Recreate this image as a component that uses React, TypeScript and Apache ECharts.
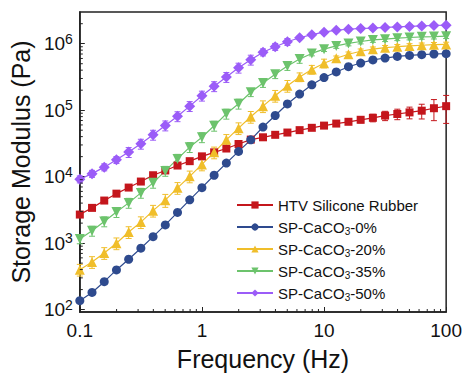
import React, { useEffect, useRef } from 'react';
import * as echarts from 'echarts';

const frequencies = [0.1, 0.1259, 0.1585, 0.1995, 0.2512, 0.3162, 0.3981, 0.5012, 0.631, 0.7943, 1, 1.259, 1.585, 1.995, 2.512, 3.162, 3.981, 5.012, 6.31, 7.943, 10, 12.59, 15.85, 19.95, 25.12, 31.62, 39.81, 50.12, 63.1, 79.43, 100];

const htv = [2690, 3390, 4370, 5550, 6850, 8440, 10500, 12400, 14700, 17100, 20200, 23200, 26500, 31000, 36100, 39100, 42600, 46100, 50100, 54300, 58600, 62900, 66900, 71700, 76800, 82900, 87700, 92600, 98300, 107000, 115000];
const sp0 = [136, 181, 263, 395, 572, 838, 1250, 1880, 2900, 4480, 6830, 10500, 16000, 24000, 35800, 55800, 83200, 124000, 175000, 241000, 310000, 376000, 451000, 512000, 570000, 609000, 644000, 667000, 683000, 700000, 707000];
const sp20 = [399, 521, 712, 996, 1470, 2070, 3080, 4430, 6780, 10100, 15300, 23200, 35800, 53700, 79600, 115000, 165000, 233000, 316000, 410000, 509000, 605000, 695000, 771000, 827000, 871000, 901000, 927000, 949000, 966000, 976000];
const sp35 = [1150, 1530, 2120, 2930, 4030, 5700, 8070, 12200, 18500, 27800, 39100, 58200, 88300, 125000, 186000, 256000, 347000, 461000, 590000, 714000, 829000, 926000, 1010000, 1080000, 1140000, 1170000, 1210000, 1240000, 1270000, 1280000, 1300000];
const sp50 = [9160, 11100, 13900, 17900, 23400, 31200, 42600, 58800, 80900, 115000, 165000, 229000, 315000, 435000, 574000, 745000, 901000, 1070000, 1230000, 1370000, 1490000, 1600000, 1650000, 1700000, 1720000, 1760000, 1790000, 1820000, 1850000, 1880000, 1900000];

// relative errors (fraction of value)
const errHtv = [0.07, 0.07, 0.07, 0.07, 0.07, 0.07, 0.07, 0.07, 0.07, 0.07, 0.07, 0.07, 0.07, 0.07, 0.07, 0.07, 0.07, 0.07, 0.07, 0.07, 0.07, 0.07, 0.07, 0.1, 0.13, 0.16, 0.18, 0.2, 0.25, 0.35, 0.45];
const errSp0 = [0.05, 0.05, 0.05, 0.05, 0.05, 0.05, 0.05, 0.05, 0.05, 0.05, 0.05, 0.05, 0.05, 0.05, 0.05, 0.05, 0.05, 0.05, 0.05, 0.05, 0.05, 0.05, 0.05, 0.05, 0.05, 0.05, 0.05, 0.05, 0.05, 0.05, 0.05];
const errSp20 = [0.2, 0.2, 0.2, 0.2, 0.2, 0.2, 0.2, 0.22, 0.2, 0.2, 0.2, 0.2, 0.2, 0.2, 0.2, 0.2, 0.2, 0.2, 0.15, 0.15, 0.15, 0.08, 0.08, 0.08, 0.08, 0.08, 0.08, 0.08, 0.08, 0.08, 0.08];
const errSp35 = [0.15, 0.17, 0.17, 0.17, 0.17, 0.17, 0.17, 0.17, 0.17, 0.17, 0.17, 0.17, 0.17, 0.17, 0.14, 0.14, 0.14, 0.14, 0.14, 0.08, 0.08, 0.08, 0.08, 0.08, 0.08, 0.08, 0.08, 0.08, 0.08, 0.08, 0.08];
const errSp50 = [0.12, 0.12, 0.12, 0.12, 0.17, 0.17, 0.17, 0.17, 0.17, 0.17, 0.17, 0.17, 0.17, 0.17, 0.17, 0.12, 0.12, 0.12, 0.06, 0.06, 0.06, 0.06, 0.06, 0.06, 0.06, 0.06, 0.06, 0.06, 0.06, 0.06, 0.06];

const seriesNames = ['HTV Silicone Rubber', 'SP-CaCO3-0%', 'SP-CaCO3-20%', 'SP-CaCO3-35%', 'SP-CaCO3-50%'];
const seriesValues = [htv, sp0, sp20, sp35, sp50];
const seriesErrors = [errHtv, errSp0, errSp20, errSp35, errSp50];
const seriesColors = ['#C4161C', '#2E4A8E', '#F0BE2A', '#6CC36C', '#9B5CF8'];
const seriesSymbols = ['rect', 'circle', 'triangle', 'path://M0,0 L10,0 L5,9 Z', 'diamond'];
const seriesSymbolSizes = [8, 9, 10, 10, 11];

const xMin = 0.1;
const xMax = 100;
const yMin = 92;
const yMax = 3.0e6;

const FONT = '"Liberation Sans", Arial, Helvetica, sans-serif';

export default function App() {
  const ref = useRef<HTMLDivElement>(null);

  useEffect(() => {
    if (!ref.current) return;
    const chart = echarts.init(ref.current, undefined, { renderer: 'svg' });

    const xMinor: number[][] = [];
    for (let d = -1; d < 2; d++) {
      for (let m = 2; m <= 9; m++) xMinor.push([m * Math.pow(10, d), 1000]);
    }
    const yMinor: number[][] = [];
    for (let d = 1; d < 7; d++) {
      for (let m = 2; m <= 9; m++) {
        const v = m * Math.pow(10, d);
        if (v > yMin && v < yMax) yMinor.push([1, v]);
      }
    }

    const errorSeries = seriesNames.map((name, si) => {
      const color = seriesColors[si];
      return {
        type: 'custom',
        name: name + ' err',
        silent: true,
        clip: false,
        z: 1,
        encode: { x: 0, y: [1, 2] },
        data: frequencies.map((f, i) => [f, seriesValues[si][i] * (1 - seriesErrors[si][i]), seriesValues[si][i] * (1 + seriesErrors[si][i])]),
        renderItem: (params: any, api: any) => {
          const x = api.value(0);
          const p1 = api.coord([x, api.value(1)]);
          const p2 = api.coord([x, api.value(2)]);
          const w = 3;
          const st = { stroke: color, lineWidth: 1, fill: 'none' };
          return {
            type: 'group',
            children: [
              { type: 'line', shape: { x1: p1[0], y1: p1[1], x2: p2[0], y2: p2[1] }, style: st },
              { type: 'line', shape: { x1: p1[0] - w, y1: p1[1], x2: p1[0] + w, y2: p1[1] }, style: st },
              { type: 'line', shape: { x1: p2[0] - w, y1: p2[1], x2: p2[0] + w, y2: p2[1] }, style: st },
            ],
          };
        },
      };
    });

    const lineSeries = seriesNames.map((name, si) => ({
      type: 'line',
      name,
      data: frequencies.map((f, i) => [f, seriesValues[si][i]]),
      symbol: seriesSymbols[si],
      symbolSize: seriesSymbolSizes[si],
      showSymbol: true,
      showAllSymbol: true,
      color: seriesColors[si],
      itemStyle: { color: seriesColors[si], opacity: 1 },
      lineStyle: { color: seriesColors[si], width: 1.2 },
      z: 2,
      silent: true,
    }));

    const minorTickSeries = [
      {
        type: 'custom',
        name: 'xminor',
        silent: true,
        clip: false,
        z: 5,
        data: xMinor,
        renderItem: (params: any, api: any) => {
          const cs = params.coordSys;
          const x = api.coord([api.value(0), 1000])[0];
          const yb = cs.y + cs.height;
          return { type: 'line', shape: { x1: x, y1: yb, x2: x, y2: yb - 3 }, style: { stroke: '#222', lineWidth: 1 } };
        },
      },
      {
        type: 'custom',
        name: 'yminor',
        silent: true,
        clip: false,
        z: 5,
        data: yMinor,
        renderItem: (params: any, api: any) => {
          const cs = params.coordSys;
          const y = api.coord([1, api.value(1)])[1];
          return { type: 'line', shape: { x1: cs.x, y1: y, x2: cs.x + 3, y2: y }, style: { stroke: '#222', lineWidth: 1 } };
        },
      },
    ];

    const option: any = {
      animation: false,
      backgroundColor: '#ffffff',
      textStyle: { fontFamily: FONT },
      grid: {
        left: 75.5,
        top: 12,
        width: 373.5,
        height: 300,
        show: true,
        borderColor: '#222',
        borderWidth: 1.5,
        backgroundColor: 'transparent',
        containLabel: false,
      },
      legend: {
        orient: 'vertical',
        left: 236,
        top: 196,
        padding: 0,
        itemWidth: 36,
        itemHeight: 9,
        itemGap: 4,
        data: seriesNames,
        selectedMode: false,
        formatter: (name: string) => {
          if (name.indexOf('CaCO3') >= 0) {
            const parts = name.split('CaCO3');
            return '{n|' + parts[0] + 'CaCO}{s|3}{n|' + parts[1] + '}';
          }
          return '{n|' + name + '}';
        },
        textStyle: {
          fontFamily: FONT,
          fontSize: 15,
          color: '#111',
          lineHeight: 18,
          rich: {
            n: { fontFamily: FONT, fontSize: 15, color: '#111', lineHeight: 18 },
            s: { fontFamily: FONT, fontSize: 10, color: '#111', lineHeight: 8, verticalAlign: 'bottom' },
          },
        },
      },
      xAxis: {
        type: 'log',
        logBase: 10,
        min: xMin,
        max: xMax,
        name: 'Frequency (Hz)',
        nameLocation: 'middle',
        nameGap: 34,
        nameTextStyle: { fontFamily: FONT, fontSize: 25, color: '#111' },
        axisLine: { show: true, lineStyle: { color: '#222', width: 1.5 } },
        axisTick: { show: true, inside: true, length: 5, lineStyle: { color: '#222', width: 1 } },
        minorTick: { show: false },
        splitLine: { show: false },
        axisLabel: {
          fontFamily: FONT,
          fontSize: 19,
          color: '#111',
          margin: 9,
          formatter: (v: number) => String(Number(v.toPrecision(3))),
        },
      },
      yAxis: {
        type: 'log',
        logBase: 10,
        min: yMin,
        max: yMax,
        name: 'Storage Modulus (Pa)',
        nameLocation: 'middle',
        nameGap: 38,
        nameTextStyle: { fontFamily: FONT, fontSize: 25, color: '#111' },
        axisLine: { show: true, lineStyle: { color: '#222', width: 1.5 } },
        axisTick: { show: true, inside: true, length: 5, lineStyle: { color: '#222', width: 1 } },
        minorTick: { show: false },
        splitLine: { show: false },
        axisLabel: {
          showMinLabel: false,
          showMaxLabel: false,
          margin: 7,
          formatter: (v: number) => {
            const e = Math.round(Math.log10(v));
            return '{b|10}{s|' + e + '}';
          },
          rich: {
            b: { fontFamily: FONT, fontSize: 19, color: '#111', lineHeight: 24 },
            s: { fontFamily: FONT, fontSize: 14, color: '#111', lineHeight: 10, verticalAlign: 'top' },
          },
        },
      },
      series: [...errorSeries, ...lineSeries, ...minorTickSeries],
    };

    chart.setOption(option);
    return () => chart.dispose();
  }, []);

  return <div ref={ref} style={{ position: 'fixed', left: 0, top: 0, width: 465, height: 376 }} />;
}
